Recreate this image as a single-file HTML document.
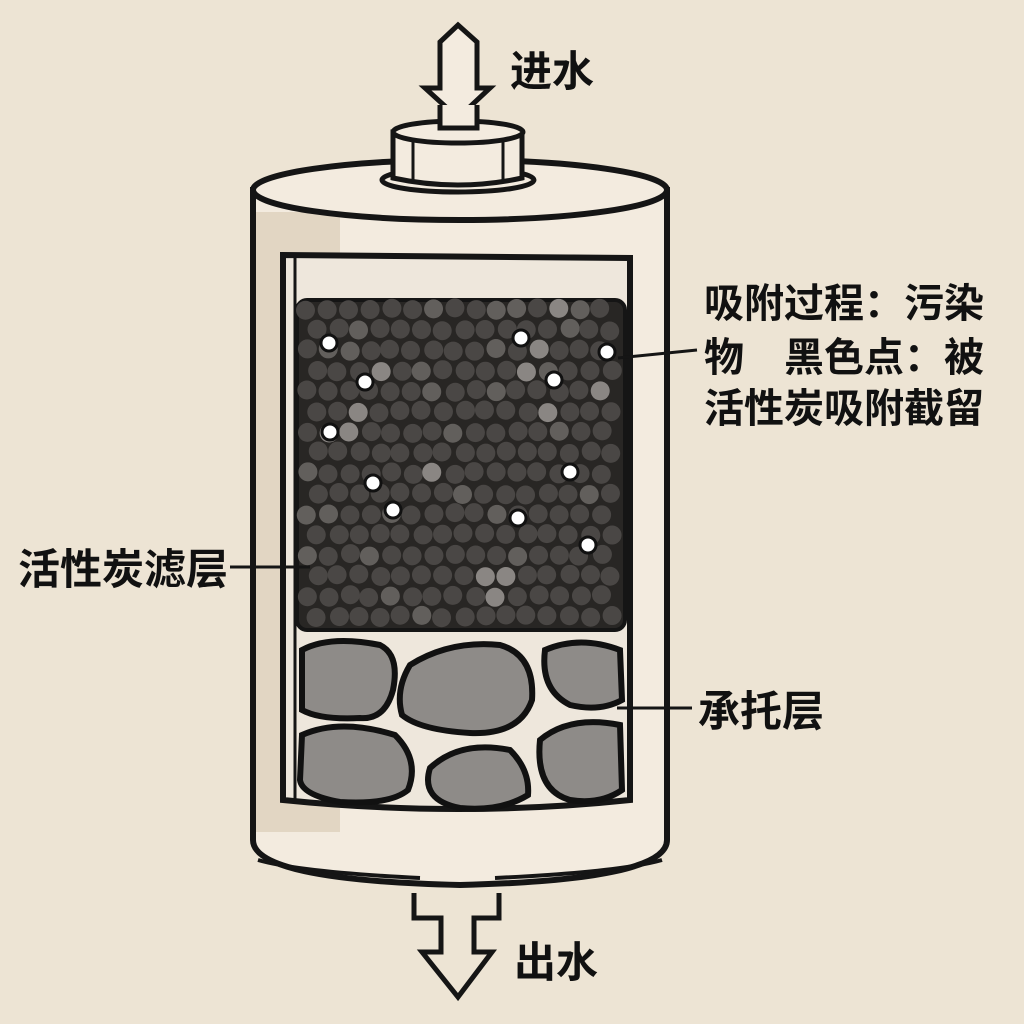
<!DOCTYPE html>
<html><head><meta charset="utf-8"><style>
html,body{margin:0;padding:0;background:#ede4d4;}
svg{display:block}
text{font-family:"Liberation Sans","Noto Sans CJK SC",sans-serif;fill:#111;font-weight:bold;}
</style></head><body>
<svg id="s" width="1024" height="1024" viewBox="0 0 1024 1024" xmlns="http://www.w3.org/2000/svg">
<rect width="1024" height="1024" fill="#ede4d4"/>
<path d="M253,190 L253,840 Q253,880 460,885 Q667,880 667,840 L667,190 Z" fill="#f3ebdf" stroke="#151515" stroke-width="6"/>
<rect x="256" y="212" width="84" height="620" fill="#e2d6c3"/>
<ellipse cx="460" cy="190" rx="207" ry="30" fill="#f3ebdf" stroke="#151515" stroke-width="6"/>
<path d="M258,860 Q300,872 420,878 M495,878 Q620,872 662,860" stroke="#151515" stroke-width="4" fill="none"/>
<path d="M283,255 L630,258 L630,800 Q460,818 283,800 Z" fill="#eee7dc" stroke="#151515" stroke-width="6"/>
<line x1="295" y1="258" x2="295" y2="800" stroke="#151515" stroke-width="3"/>
<rect x="297" y="300" width="328" height="330" rx="10" fill="#282624" stroke="#151515" stroke-width="4"/>
<g id="beads"></g>
<g id="dots"></g>
<g fill="#8e8b88" stroke="#111" stroke-width="6">
<path d="M302,650 Q330,635 380,645 Q400,655 393,690 Q385,720 360,718 Q320,720 302,710 Z"/>
<path d="M410,665 Q450,640 500,645 Q535,655 532,700 Q520,735 470,733 Q420,730 402,715 Q395,690 410,665 Z"/>
<path d="M545,650 Q580,635 620,650 L622,700 Q600,712 570,705 Q540,690 545,650 Z"/>
<path d="M302,735 Q340,718 395,735 Q420,760 408,790 Q390,805 340,802 Q302,795 300,780 Z"/>
<path d="M430,768 Q460,740 510,750 Q530,770 528,795 Q500,812 460,808 Q420,800 430,768 Z"/>
<path d="M540,740 Q570,715 620,725 L622,790 Q600,805 570,800 Q535,790 540,740 Z"/>
</g>
<ellipse cx="458" cy="180" rx="76" ry="12" fill="#f3ebdf" stroke="#151515" stroke-width="5"/>
<path d="M393,132 L393,178 Q458,192 522,178 L522,132 Z" fill="#f3ebdf" stroke="#151515" stroke-width="5"/>
<ellipse cx="458" cy="132" rx="65" ry="11" fill="#f3ebdf" stroke="#151515" stroke-width="5"/>
<line x1="413" y1="142" x2="413" y2="180" stroke="#151515" stroke-width="3"/>
<line x1="503" y1="142" x2="503" y2="180" stroke="#151515" stroke-width="3"/>
<path d="M458,25 L477,42 L477,88 L490,88 L458,118 L425,88 L440,88 L440,42 Z" fill="#f3ebdf" stroke="#151515" stroke-width="5"/>
<path d="M440,105 L440,128 L477,128 L477,105" fill="#f3ebdf" stroke="#151515" stroke-width="5"/>
<path d="M414,893 L414,918 L441,918 L441,952 L422,952 L458,997 L492,952 L474,952 L474,918 L499,918 L499,893" fill="#ede4d4" stroke="#151515" stroke-width="5"/>
<line x1="618" y1="358" x2="697" y2="350" stroke="#151515" stroke-width="3"/>
<line x1="230" y1="567" x2="310" y2="567" stroke="#151515" stroke-width="3"/>
<line x1="617" y1="708" x2="692" y2="708" stroke="#151515" stroke-width="3"/>
<text x="510" y="86" font-size="42">进水</text>
<text x="514" y="977" font-size="42">出水</text>
<text x="704" y="317" font-size="40">吸附过程：污染</text>
<text x="704" y="371" font-size="40">物　黑色点：被</text>
<text x="704" y="422" font-size="40">活性炭吸附截留</text>
<text x="18" y="584" font-size="42">活性炭滤层</text>
<text x="698" y="726" font-size="42">承托层</text>
</svg>
<script>
var NS="http://www.w3.org/2000/svg";
var g=document.getElementById("beads"),seed=7;
function r(){seed=(seed*16807)%2147483647;return seed/2147483647;}
for(var row=0;row<16;row++){for(var col=0;col<16;col++){
 var x=307+col*21+(row%2?10:0), y=309+row*20.5;
 if(x>618)continue;
 var c=document.createElementNS(NS,"circle");
 c.setAttribute("cx",x+(r()-0.5)*3);c.setAttribute("cy",y+(r()-0.5)*3);
 c.setAttribute("r",9.5);
 var v=r(); var col2=v>0.93?"#8a8683":(v>0.8?"#625f5c":"#4a4745");
 c.setAttribute("fill",col2);g.appendChild(c);}}
var d=document.getElementById("dots");
[[329,343],[365,382],[521,338],[607,352],[554,380],[330,432],[373,483],[393,510],[570,472],[518,518],[588,545]].forEach(function(p){
 var c=document.createElementNS(NS,"circle");c.setAttribute("cx",p[0]);c.setAttribute("cy",p[1]);c.setAttribute("r",8);
 c.setAttribute("fill","#fff");c.setAttribute("stroke","#111");c.setAttribute("stroke-width","3");d.appendChild(c);});
</script>
</body></html>
